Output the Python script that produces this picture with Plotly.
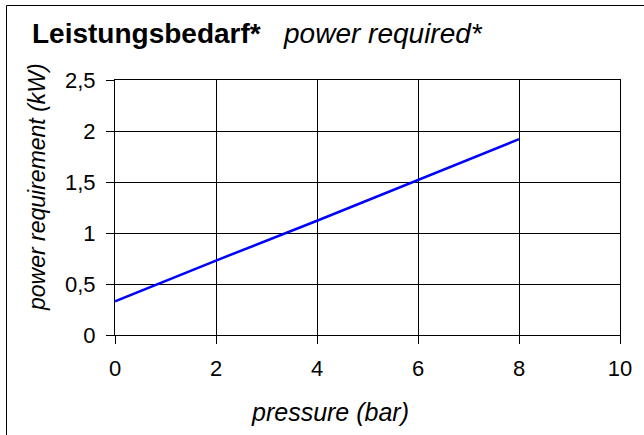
import plotly.graph_objects as go

pressure = [0, 2, 4, 6, 8]
power = [0.33, 0.73, 1.12, 1.52, 1.92]
x_ticks = [0, 2, 4, 6, 8, 10]
y_ticks = [0, 0.5, 1, 1.5, 2, 2.5]

W, H = 644, 435
L, R, T, B = 115, 24, 80, 100
pw, ph = W - L - R, H - T - B

def px(xpix):
    return (xpix - L) / pw

def py(ypix):
    return (H - B - ypix) / ph

fig = go.Figure()
fig.add_trace(go.Scatter(x=pressure, y=power, mode="lines",
                         line=dict(color="#0000FF", width=2.5), showlegend=False))

font = "Arial, Liberation Sans, sans-serif"
axis_common = dict(showgrid=True, gridcolor="black", gridwidth=1,
                   showline=True, linecolor="black", linewidth=1, mirror=True,
                   ticks="outside", ticklen=8, tickcolor="black",
                   tickfont=dict(family=font, size=22, color="black"),
                   zeroline=False)
fig.update_xaxes(range=[0, 10], tickvals=x_ticks, ticklabelstandoff=6, **axis_common)
fig.update_yaxes(range=[0, 2.5], tickvals=y_ticks, ticklabelstandoff=6, **axis_common)

fig.update_layout(
    width=W, height=H, autosize=False,
    margin=dict(l=L, r=R, t=T, b=B),
    paper_bgcolor="white", plot_bgcolor="white",
    separators=",.",
    font=dict(family=font, color="black"),
    shapes=[dict(type="rect", xref="paper", yref="paper",
                 x0=px(6.5), x1=px(700), y0=py(500), y1=py(5.5),
                 line=dict(color="black", width=1), layer="below")],
    annotations=[
        dict(text="<b>Leistungsbedarf*</b>&nbsp;&nbsp;&nbsp;<i>power required*</i>",
             xref="paper", yref="paper", x=px(30), y=py(33), xanchor="left", yanchor="middle",
             showarrow=False, font=dict(family=font, size=28, color="black")),
        dict(text="<i>pressure (bar)</i>", xref="paper", yref="paper",
             x=px(330), y=py(412), xanchor="center", yanchor="middle",
             showarrow=False, font=dict(family=font, size=25, color="black")),
        dict(text="<i>power requirement (kW)</i>", xref="paper", yref="paper",
             x=px(37), y=py(187), xanchor="center", yanchor="middle", textangle=-90,
             showarrow=False, font=dict(family=font, size=23, color="black")),
    ],
)

fig.write_html("out.html", post_script="document.body.style.margin='0';",
               config={"displayModeBar": False, "staticPlot": True})
